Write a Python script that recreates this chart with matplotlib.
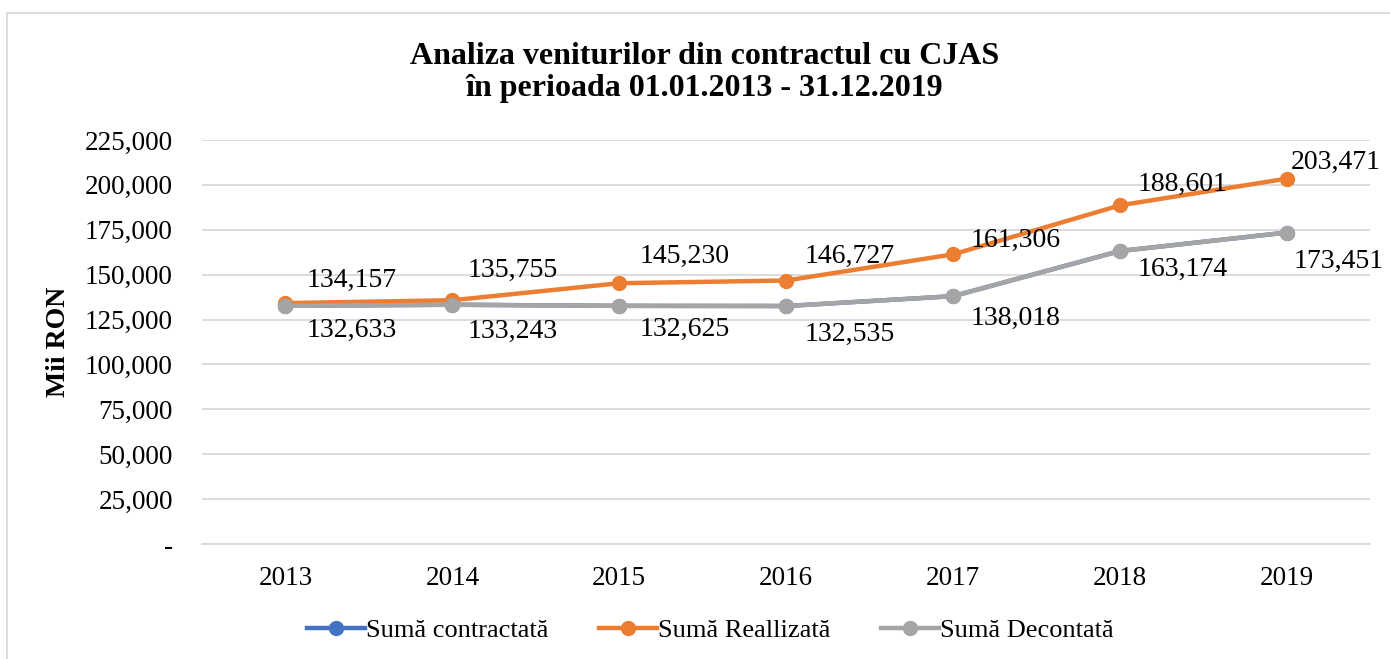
import matplotlib
matplotlib.use("Agg")
import matplotlib.pyplot as plt
from matplotlib.patches import Rectangle
from matplotlib.ticker import FuncFormatter

plt.rcParams["font.family"] = ["Liberation Serif", "DejaVu Serif"]

years = ["2013", "2014", "2015", "2016", "2017", "2018", "2019"]
contractata = [132633, 133243, 132625, 132535, 138018, 163174, 173451]
realizata = [134157, 135755, 145230, 146727, 161306, 188601, 203471]
decontata = [132633, 133243, 132625, 132535, 138018, 163174, 173451]

# label nudges in pixels (dx to left edge of text, dy to text centre)
off_real = [(21, 23), (15, 30), (20, 27), (18, 24), (18, 14), (18, 21), (4, 16)]
off_dec = [(21, -25), (15, -27), (20, -24), (18, -28), (18, -22), (18, -18), (7, -29)]

BLUE, ORANGE, GRAY = "#4472C4", "#ED7D31", "#A5A5A5"

fig = plt.figure(figsize=(13.9, 6.59), dpi=100)
ax = fig.add_axes([0.1453, 0.1745, 0.8406, 0.6131])

x = range(len(years))
ax.plot(x, contractata, color=BLUE, lw=3.2, marker="o", ms=10, label="Sumă contractată", zorder=3)
ax.plot(x, realizata, color=ORANGE, lw=3.2, marker="o", ms=10, label="Sumă Reallizată", zorder=4)
ax.plot(x, decontata, color=GRAY, lw=3.2, marker="o", ms=10, label="Sumă Decontată", zorder=5)

for i, v in enumerate(realizata):
    ax.annotate(f"{v:,}", (i, v), xytext=off_real[i], textcoords="offset pixels",
                ha="left", va="center", fontsize=20, color="#000000", zorder=6)
for i, v in enumerate(decontata):
    ax.annotate(f"{v:,}", (i, v), xytext=off_dec[i], textcoords="offset pixels",
                ha="left", va="center", fontsize=20, color="#000000", zorder=6)

ax.set_xlim(-0.5, len(years) - 0.5)
ax.set_ylim(0, 225000)
ax.set_yticks(range(0, 225001, 25000))
ax.yaxis.set_major_formatter(FuncFormatter(lambda v, p: "-" if v == 0 else f"{int(v):,}"))
ax.set_xticks(list(x))
ax.set_xticklabels(years)
ax.tick_params(axis="both", length=0, labelsize=19.5, colors="#000000")
ax.tick_params(axis="x", pad=16)
ax.tick_params(axis="y", pad=21)
ax.grid(axis="y", color="#D9D9D9", lw=1.3)
ax.set_axisbelow(True)
for s in ["top", "right", "left"]:
    ax.spines[s].set_visible(False)
ax.spines["bottom"].set_color("#D9D9D9")
ax.spines["bottom"].set_linewidth(1.3)

ax.set_ylabel("Mii RON", fontsize=20, fontweight="bold", labelpad=10)

fig.text(0.507, 0.89, "Analiza veniturilor din contractul cu CJAS\nîn perioada 01.01.2013 - 31.12.2019",
         ha="center", va="center", fontsize=23, fontweight="bold", linespacing=1.1)

fig.legend(loc="center", bbox_to_anchor=(0.511, 0.044), ncol=3, frameon=False,
           fontsize=19, handlelength=2.2, handletextpad=0.05, columnspacing=1.9)

fig.add_artist(Rectangle((7 / 1390, -0.1), 1.2, 1.1 - 13 / 659, transform=fig.transFigure,
                         fill=False, edgecolor="#D9D9D9", lw=1.3))

fig.savefig("out.png", dpi=100)
